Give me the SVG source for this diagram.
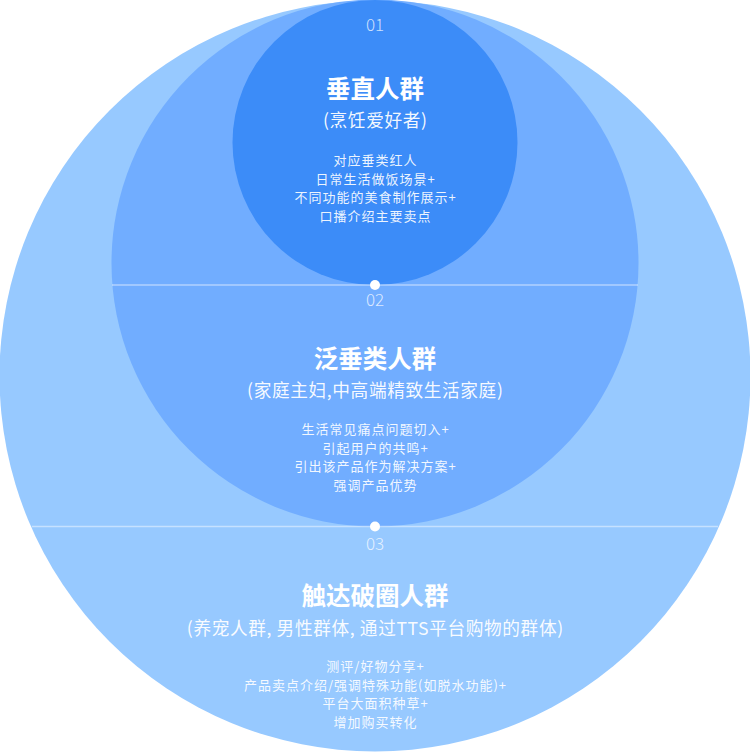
<svg xmlns="http://www.w3.org/2000/svg" width="750" height="752" viewBox="0 0 750 752">
  <style>
    text { font-family: "Noto Sans CJK SC", "Noto Sans", "Liberation Sans", sans-serif; text-anchor: middle; fill: #ffffff; }
    .num { font-size: 17px; font-weight: 300; fill: #ffffff; fill-opacity: 0.75; }
    .title { font-size: 24.5px; font-weight: 700; }
    .sub { font-size: 17.7px; font-weight: 400; letter-spacing: 0.6px; fill-opacity: 0.95; }
    .body { font-size: 13px; font-weight: 400; letter-spacing: 1px; fill-opacity: 0.92; }
    .divider { stroke: #ffffff; stroke-opacity: 0.45; stroke-width: 1.5; fill: none; }
    .dot { fill: #ffffff; }
  </style>
  <rect width="750" height="752" fill="#ffffff"/>

  <g id="ring-03">
    <circle cx="375" cy="376" r="375.5" fill="#97c9ff"/>
  </g>
  <g id="ring-02">
    <circle cx="375" cy="263" r="263.5" fill="#71adff"/>
  </g>
  <g id="ring-01">
    <circle cx="375" cy="142.5" r="142.5" fill="#3c8cf8"/>
  </g>

  <g id="connectors">
    <line class="divider" x1="112" y1="285" x2="638" y2="285"/>
    <line class="divider" x1="32" y1="526.5" x2="718" y2="526.5"/>
    <circle class="dot" cx="375" cy="285" r="5"/>
    <circle class="dot" cx="375" cy="526.5" r="5"/>
  </g>

  <g id="label-01">
    <text class="num" x="375" y="31">01</text>
    <text class="title" x="375" y="97.5">垂直人群</text>
    <text class="sub" x="375.3" y="127">(烹饪爱好者)</text>
    <text class="body" x="375.5" y="164.8">对应垂类红人</text>
    <text class="body" x="375.5" y="183.5">日常生活做饭场景+</text>
    <text class="body" x="375.5" y="202.2">不同功能的美食制作展示+</text>
    <text class="body" x="375.5" y="220.9">口播介绍主要卖点</text>
  </g>

  <g id="label-02">
    <text class="num" x="375" y="306">02</text>
    <text class="title" x="375" y="368.3">泛垂类人群</text>
    <text class="sub" x="375.3" y="397">(家庭主妇,中高端精致生活家庭)</text>
    <text class="body" x="375.5" y="434">生活常见痛点问题切入+</text>
    <text class="body" x="375.5" y="452.7">引起用户的共鸣+</text>
    <text class="body" x="375.5" y="471.4">引出该产品作为解决方案+</text>
    <text class="body" x="375.5" y="490.1">强调产品优势</text>
  </g>

  <g id="label-03">
    <text class="num" x="375" y="550">03</text>
    <text class="title" x="375" y="605">触达破圈人群</text>
    <text class="sub" x="375.3" y="634.5">(养宠人群, 男性群体, 通过TTS平台购物的群体)</text>
    <text class="body" x="375.5" y="670.8">测评/好物分享+</text>
    <text class="body" x="375.5" y="689.5">产品卖点介绍/强调特殊功能(如脱水功能)+</text>
    <text class="body" x="375.5" y="708.2">平台大面积种草+</text>
    <text class="body" x="375.5" y="726.9">增加购买转化</text>
  </g>
</svg>
